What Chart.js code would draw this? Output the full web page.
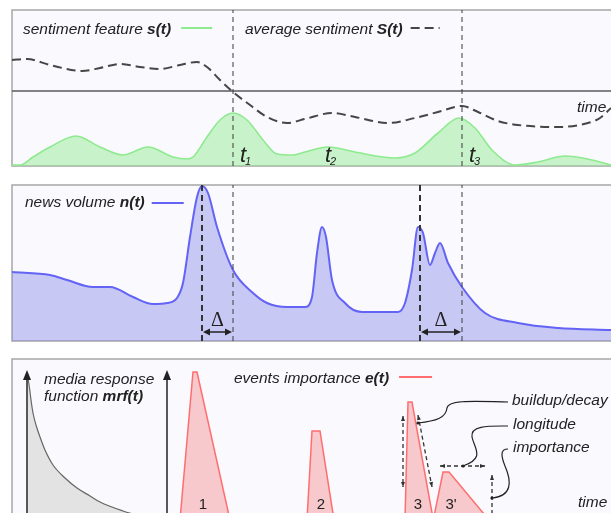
<!DOCTYPE html>
<html>
<head>
<meta charset="utf-8">
<script src="https://cdn.jsdelivr.net/npm/chart.js@4/dist/chart.umd.min.js"></script>
<style>
html, body { margin: 0; padding: 0; background: #fff; overflow: hidden; width: 611px; height: 513px; }
canvas { position: absolute; left: 0; }
</style>
</head>
<body>
<canvas id="sentChart" width="611" height="175" style="top:0"></canvas>
<canvas id="newsChart" width="611" height="175" style="top:175px"></canvas>
<canvas id="eventChart" width="611" height="163" style="top:350px"></canvas>
<script>
// sentiment feature s(t)
const sentTime = [12, 20, 33, 50, 76, 100, 123, 148, 173, 187, 193, 207, 220, 233, 247, 263, 277, 293, 305, 328, 355, 395, 415, 438, 459, 475, 492, 515, 538, 565, 592, 611];
const sentiment = [1, 1, 9, 19, 30, 19, 11, 19, 9, 7, 9, 29, 46, 53, 46, 26, 12, 11, 14, 19, 14, 8, 13, 33, 48, 38, 16, 1, 4, 10, 6, 1];

// average sentiment S(t)
const avgTime = [12, 27, 50, 82, 100, 120, 140, 160, 180, 197, 207, 220, 233, 250, 267, 287, 305, 332, 355, 388, 415, 438, 462, 478, 498, 518, 558, 588, 600, 611];
const avgSentiment = [106, 107, 101, 95, 98, 102, 99, 97, 101, 104, 99, 86, 74, 61, 49, 43, 47, 53, 49, 43, 48, 54, 60, 54, 45, 41, 39, 43, 48, 58];
const timeAxisLevel = 75;

// news volume n(t)
const newsTime = [12, 50, 67, 93, 110, 133, 153, 167, 177, 183, 190, 197, 202, 208, 217, 233, 253, 267, 287, 305, 312, 317, 322, 326, 332, 345, 362, 398, 405, 412, 418, 423, 430, 435, 440, 448, 462, 485, 518, 558, 611];
const newsVolume = [69, 66, 61, 54, 54, 44, 37, 38, 43, 58, 104, 144, 155, 148, 114, 71, 48, 38, 34, 34, 44, 88, 114, 104, 61, 38, 29, 29, 38, 71, 114, 108, 76, 88, 98, 78, 54, 28, 18, 13, 11];

// sentiment events t1, t3 and the news peaks that precede them
const sentEvents = [233, 462];
const newsPeaks = [202, 420];
const tLabelTime = [240, 325, 469];
const tLabelSub = ['1', '2', '3'];

// media response function mrf(t)
const mrfTime = [27.5, 29.5, 31, 33, 36, 40, 45, 53, 65, 77, 90, 100, 123, 140];
const mrfValues = [145, 132, 120, 107, 95, 83, 70, 55, 42, 32, 24, 18, 9, 4];
const axisTime = [27, 167];

// events importance e(t)
const eventTime = [180, 193, 197, 230, 307, 312, 320, 334, 405, 408, 412, 433.3, 433.6, 443, 449, 489];
const eventImportance = [0, 148, 148, 0, 0, 89, 89, 0, 0, 118, 118, 0, 0, 48, 48, 0];
const eventLabels = ['1', '2', '3', "3'"];
const eventLabelTime = [203, 321, 418, 451];

const BG = '#f9f9fe';
const FRAME = '#a6a6a6';
const TEXT = '#222';
const FONT = '"Liberation Sans", Arial, sans-serif';
const FS = 15.5;

const pts = (xs, ys) => xs.map((x, i) => ({ x, y: ys[i] }));
const vline = (x, lo, hi) => [{ x, y: lo }, { x, y: hi }];

function frame(chart, top, bottom) {
    const { ctx } = chart;
    const X = v => chart.scales.x.getPixelForValue(v);
    const Y = v => chart.scales.y.getPixelForValue(v);
    const x0 = X(12), yT = Y(top), yB = bottom === null ? chart.height + 2 : Y(bottom);
    ctx.save();
    ctx.fillStyle = BG;
    ctx.fillRect(x0, yT, chart.width - x0 + 5, yB - yT);
    ctx.strokeStyle = FRAME;
    ctx.lineWidth = 1.5;
    ctx.beginPath();
    ctx.moveTo(chart.width + 5, yT); ctx.lineTo(x0, yT); ctx.lineTo(x0, yB);
    if (bottom !== null) ctx.lineTo(chart.width + 5, yB);
    ctx.stroke();
    ctx.restore();
}

// draws a sequence of [text, bold] parts, returns end x
function richText(ctx, parts, x, y, size) {
    parts.forEach(([t, bold]) => {
        ctx.font = `italic ${bold ? 'bold ' : ''}${size}px ${FONT}`;
        ctx.fillText(t, x, y);
        x += ctx.measureText(t).width;
    });
    return x;
}

function arrowHead(ctx, x1, y1, x2, y2, size, width) {
    const a = Math.atan2(y2 - y1, x2 - x1);
    ctx.beginPath();
    ctx.moveTo(x2, y2);
    ctx.lineTo(x2 - size * Math.cos(a) + width * Math.sin(a), y2 - size * Math.sin(a) - width * Math.cos(a));
    ctx.lineTo(x2 - size * Math.cos(a) - width * Math.sin(a), y2 - size * Math.sin(a) + width * Math.cos(a));
    ctx.closePath();
    ctx.fill();
}

function baseOptions(yMin, yMax) {
    return {
        responsive: false,
        animation: false,
        devicePixelRatio: 1,
        layout: { padding: 0 },
        scales: {
            x: { type: 'linear', min: 0, max: 611, display: false },
            y: { type: 'linear', min: yMin, max: yMax, display: false }
        },
        plugins: { legend: { display: false }, tooltip: { enabled: false } },
        elements: { point: { radius: 0, hoverRadius: 0 } }
    };
}

// ---------- panel 1: sentiment ----------
new Chart(document.getElementById('sentChart'), {
    type: 'line',
    data: {
        datasets: [
            ...sentEvents.map(t => ({ data: vline(t, 0, 156), borderColor: '#3a3a3a', borderWidth: 1, borderDash: [5, 4] })),
            {
                data: pts(avgTime, avgSentiment), borderColor: '#464646', borderWidth: 2, borderDash: [9, 5],
                cubicInterpolationMode: 'monotone', fill: false
            },
            {
                data: pts(sentTime, sentiment), borderColor: '#8eea8e', borderWidth: 1.6,
                backgroundColor: 'rgba(140,235,140,0.45)', fill: 'origin', cubicInterpolationMode: 'monotone'
            },
            { data: [{ x: 12, y: timeAxisLevel }, { x: 620, y: timeAxisLevel }], borderColor: '#5a5a5a', borderWidth: 1.5 }
        ]
    },
    options: baseOptions(-9, 166),
    plugins: [{
        id: 'sentDeco',
        beforeDraw: c => frame(c, 156, 0),
        afterDatasetsDraw: c => {
            const { ctx } = c;
            const X = v => c.scales.x.getPixelForValue(v);
            const Y = v => c.scales.y.getPixelForValue(v);
            ctx.save();
            ctx.fillStyle = TEXT;
            let end = richText(ctx, [['sentiment feature ', false], ['s(t)', true]], X(23), Y(132), FS);
            ctx.strokeStyle = '#8eea8e'; ctx.lineWidth = 2;
            ctx.beginPath(); ctx.moveTo(end + 10, Y(138)); ctx.lineTo(end + 41, Y(138)); ctx.stroke();
            end = richText(ctx, [['average sentiment ', false], ['S(t)', true]], X(245), Y(132), FS);
            ctx.strokeStyle = '#464646'; ctx.setLineDash([9, 5]);
            ctx.beginPath(); ctx.moveTo(end + 8, Y(138)); ctx.lineTo(end + 37, Y(138)); ctx.stroke();
            ctx.setLineDash([]);
            ctx.font = `italic ${FS}px ${FONT}`;
            ctx.fillText('time', X(577), Y(54));
            tLabelTime.forEach((t, i) => {
                ctx.font = `italic 22px ${FONT}`;
                ctx.fillText('t', X(t), Y(4));
                const w = ctx.measureText('t').width;
                ctx.font = `italic 11px ${FONT}`;
                ctx.fillText(tLabelSub[i], X(t) + w - 1, Y(4) + 3);
            });
            ctx.restore();
        }
    }]
});

// ---------- panel 2: news volume ----------
new Chart(document.getElementById('newsChart'), {
    type: 'line',
    data: {
        datasets: [
            ...newsPeaks.map(t => ({ data: vline(t, 0, 156), borderColor: '#333', borderWidth: 2, borderDash: [6, 4] })),
            ...sentEvents.map(t => ({ data: vline(t, 0, 156), borderColor: '#3a3a3a', borderWidth: 1, borderDash: [5, 4] })),
            {
                data: pts(newsTime, newsVolume), borderColor: '#6363f5', borderWidth: 2,
                backgroundColor: 'rgba(120,120,230,0.38)', fill: 'origin', cubicInterpolationMode: 'monotone'
            }
        ]
    },
    options: baseOptions(-9, 166),
    plugins: [{
        id: 'newsDeco',
        beforeDraw: c => frame(c, 156, 0),
        afterDatasetsDraw: c => {
            const { ctx } = c;
            const X = v => c.scales.x.getPixelForValue(v);
            const Y = v => c.scales.y.getPixelForValue(v);
            ctx.save();
            ctx.fillStyle = TEXT;
            const end = richText(ctx, [['news volume ', false], ['n(t)', true]], X(25), Y(134), FS);
            ctx.strokeStyle = '#6363f5'; ctx.lineWidth = 2;
            ctx.beginPath(); ctx.moveTo(end + 7, Y(138)); ctx.lineTo(end + 39, Y(138)); ctx.stroke();
            // lag arrows
            ctx.strokeStyle = '#222'; ctx.fillStyle = '#222'; ctx.lineWidth = 1.5;
            newsPeaks.forEach((p, i) => {
                const a = X(p) + 1, b = X(sentEvents[i]) - 1, y = Y(9);
                ctx.beginPath(); ctx.moveTo(a + 4, y); ctx.lineTo(b - 4, y); ctx.stroke();
                arrowHead(ctx, b, y, a, y, 7, 3.5);
                arrowHead(ctx, a, y, b, y, 7, 3.5);
                ctx.font = '20px "Liberation Serif", serif';
                ctx.textAlign = 'center';
                ctx.fillText('\u0394', (X(p) + X(sentEvents[i])) / 2, Y(15));
                ctx.textAlign = 'left';
            });
            ctx.restore();
        }
    }]
});

// ---------- panel 3: events ----------
new Chart(document.getElementById('eventChart'), {
    type: 'line',
    data: {
        datasets: [
            ...axisTime.map(t => ({ data: vline(t, 0, 143), borderColor: '#222', borderWidth: 1.5 })),
            {
                data: pts(eventTime, eventImportance), borderColor: '#ff6e6e', borderWidth: 1.5,
                backgroundColor: 'rgba(245,130,130,0.4)', fill: 'origin', tension: 0
            },
            {
                data: pts(mrfTime, mrfValues), borderColor: '#666', borderWidth: 1.2,
                backgroundColor: '#e3e3e3', fill: 'origin', cubicInterpolationMode: 'monotone'
            }
        ]
    },
    options: baseOptions(7, 170),
    plugins: [{
        id: 'eventDeco',
        beforeDraw: c => frame(c, 161, null),
        afterDatasetsDraw: c => {
            const { ctx } = c;
            const X = v => c.scales.x.getPixelForValue(v);
            const Y = v => c.scales.y.getPixelForValue(v);
            ctx.save();
            ctx.fillStyle = '#222';
            axisTime.forEach(t => arrowHead(ctx, X(t), Y(130), X(t), Y(150), 10, 4));
            ctx.fillStyle = TEXT;
            richText(ctx, [['media response', false]], X(44), Y(136), FS);
            richText(ctx, [['function ', false], ['mrf(t)', true]], X(44), Y(119), FS);
            const end = richText(ctx, [['events importance ', false], ['e(t)', true]], X(234), Y(137), FS);
            ctx.strokeStyle = '#ff6e6e'; ctx.lineWidth = 2;
            ctx.beginPath(); ctx.moveTo(end + 10, Y(143)); ctx.lineTo(end + 43, Y(143)); ctx.stroke();
            ctx.font = `italic ${FS}px ${FONT}`;
            ctx.fillText('buildup/decay', X(512), Y(115));
            ctx.fillText('longitude', X(513), Y(91));
            ctx.fillText('importance', X(513), Y(68));
            ctx.fillText('time', X(578), Y(13));
            ctx.font = `15px ${FONT}`;
            ctx.textAlign = 'center';
            eventLabels.forEach((l, i) => ctx.fillText(l, X(eventLabelTime[i]), Y(11)));
            ctx.textAlign = 'left';

            // dashed dimension arrows around event 3 / 3'
            ctx.strokeStyle = '#333'; ctx.fillStyle = '#333'; ctx.lineWidth = 1.3;
            const dims = [[403, 104, 403, 33], [418, 105, 432, 33], [440, 54, 485, 54], [492, 45, 492, 2]];
            dims.forEach(([x1, y1, x2, y2]) => {
                ctx.setLineDash([4, 3]);
                ctx.beginPath(); ctx.moveTo(X(x1), Y(y1)); ctx.lineTo(X(x2), Y(y2)); ctx.stroke();
                ctx.setLineDash([]);
                arrowHead(ctx, X(x2), Y(y2), X(x1), Y(y1), 5, 2);
                arrowHead(ctx, X(x1), Y(y1), X(x2), Y(y2), 5, 2);
            });

            // leader curves from the labels
            ctx.strokeStyle = '#222'; ctx.fillStyle = '#222'; ctx.lineWidth = 1.2;
            const leaders = [
                [[508, 118], [470, 119], [448, 120], [447, 112], [446, 102], [436, 99], [418, 97]],
                [[508, 94], [490, 94], [470, 95], [472, 83], [474, 72], [486, 62], [463, 54]],
                [[508, 71], [500, 71], [501, 64], [505, 54], [512, 38], [512, 24], [492, 22]]
            ];
            leaders.forEach(p => {
                ctx.beginPath();
                ctx.moveTo(X(p[0][0]), Y(p[0][1]));
                ctx.bezierCurveTo(X(p[1][0]), Y(p[1][1]), X(p[2][0]), Y(p[2][1]), X(p[3][0]), Y(p[3][1]));
                ctx.bezierCurveTo(X(p[4][0]), Y(p[4][1]), X(p[5][0]), Y(p[5][1]), X(p[6][0]), Y(p[6][1]));
                ctx.stroke();
                ctx.beginPath(); ctx.arc(X(p[6][0]), Y(p[6][1]), 1.6, 0, Math.PI * 2); ctx.fill();
            });
            ctx.restore();
        }
    }]
});
</script>
</body>
</html>
